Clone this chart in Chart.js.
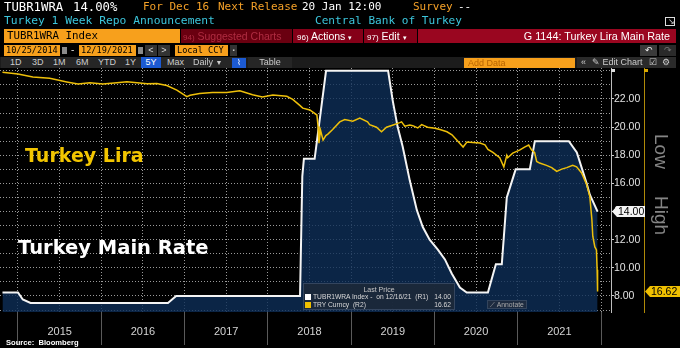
<!DOCTYPE html>
<html>
<head>
<meta charset="utf-8">
<script src="https://cdn.jsdelivr.net/npm/chart.js@4.4.1/dist/chart.umd.min.js"></script>
<style>
  html, body { margin: 0; padding: 0; background: #000; }
  #wrap { position: relative; width: 680px; height: 348px; overflow: hidden; background: #000;
          font-family: "Liberation Sans", Arial, sans-serif; }
  #wrap canvas { position: absolute; left: 0; top: 0; }
  .t { position: absolute; white-space: nowrap; }
  .m { font-family: "DejaVu Sans Mono", monospace; }
  .b { position: absolute; box-sizing: border-box; white-space: nowrap; overflow: hidden; }
  .or { color: #f5a128; }
  .cy { color: #3cc6dc; }
  .ov { z-index: 2; }
</style>
</head>
<body>
<div id="wrap">
  <canvas id="chart" width="680" height="348"></canvas>

  <!-- header line 1 -->
  <div class="t m" style="left:4px;top:0px;font-size:12.3px;line-height:14px;color:#fff">TUBR1WRA</div>
  <div class="t m" style="left:73px;top:0px;font-size:12.3px;line-height:14px;color:#fff">14.00%</div>
  <div class="t m or" style="left:143px;top:0px;font-size:11px;line-height:14px">For Dec 16</div>
  <div class="t m or" style="left:218px;top:0px;font-size:11px;line-height:14px">Next Release</div>
  <div class="t m" style="left:302px;top:0px;font-size:11px;line-height:14px;color:#fff">20 Jan 12:00</div>
  <div class="t m or" style="left:413px;top:0px;font-size:11px;line-height:14px">Survey</div>
  <div class="t m" style="left:458px;top:0px;font-size:11px;line-height:14px;color:#fff">--</div>

  <!-- header line 2 -->
  <div class="t m cy" style="left:4px;top:14px;font-size:11.3px;line-height:14px">Turkey 1 Week Repo Announcement</div>
  <div class="t m cy" style="left:315px;top:14px;font-size:11.1px;line-height:14px">Central Bank of Turkey</div>
  <div class="b" style="left:665px;top:17px;width:10px;height:9px;border:1.5px solid #ddd"></div>
  <div class="t" style="left:668px;top:18px;font-size:8px;line-height:8px;color:#ddd">↘</div>

  <!-- header line 3 -->
  <div class="b m" style="left:4px;top:29px;width:176px;height:14px;background:#f7a01c;color:#000;font-size:10.8px;line-height:14px;padding-left:3px">TUBR1WRA Index</div>
  <div class="b" style="left:181px;top:29px;width:111px;height:14px;background:#6a0010;color:#b02c42;font-size:10.5px;line-height:14px;padding-left:2px"><span style="font-size:8px">94)</span> Suggested Charts</div>
  <div class="b" style="left:293px;top:29px;width:70px;height:14px;background:#850018;color:#fff;font-size:10.5px;line-height:14px;padding-left:4px"><span style="font-size:8px">96)</span> Actions <span style="font-size:7px">▾</span></div>
  <div class="b" style="left:364px;top:29px;width:53px;height:14px;background:#850018;color:#fff;font-size:10.5px;line-height:14px;padding-left:3px"><span style="font-size:8px">97)</span> Edit <span style="font-size:7px">▾</span></div>
  <div class="b" style="left:418px;top:29px;width:258px;height:14px;background:#9a0620;color:#fff;font-size:10.8px;line-height:14px;text-align:right;padding-right:6px">G 1144: Turkey Lira Main Rate</div>

  <!-- header line 4 -->
  <div class="b m" style="left:4px;top:45px;width:56px;height:11px;background:#f7a01c;color:#000;font-size:8.6px;line-height:11px;padding-left:2px">10/25/2014</div>
  <div class="b" style="left:62px;top:47px;width:5px;height:7px;background:#8a8a8a"></div>
  <div class="t" style="left:71px;top:44px;font-size:10px;line-height:12px;color:#ddd">-</div>
  <div class="b m" style="left:79px;top:45px;width:57px;height:11px;background:#f7a01c;color:#000;font-size:8.6px;line-height:11px;padding-left:2px">12/19/2021</div>
  <div class="b" style="left:138px;top:47px;width:5px;height:7px;background:#8a8a8a"></div>
  <div class="b" style="left:145px;top:45px;width:12px;height:11px;background:#333;color:#ddd;font-size:9px;line-height:11px;text-align:center">&lt;</div>
  <div class="b" style="left:158px;top:45px;width:12px;height:11px;background:#333;color:#ddd;font-size:9px;line-height:11px;text-align:center">&gt;</div>
  <div class="b m" style="left:175px;top:45px;width:53px;height:11px;background:#f7a01c;color:#000;font-size:8.6px;line-height:11px;padding-left:2px">Local CCY</div>
  <div class="b" style="left:230px;top:45px;width:7px;height:11px;background:#333;color:#ccc;font-size:6px;line-height:11px;text-align:center">▪</div>
  <div class="b" style="left:640px;top:45px;width:17px;height:11px;background:#3a3a3a;color:#eee;font-size:9px;line-height:11px;text-align:center">↶</div>
  <div class="b" style="left:659px;top:45px;width:17px;height:11px;background:#2a2a2a;color:#777;font-size:9px;line-height:11px;text-align:center">↷</div>

  <!-- toolbar -->
  <div class="b" style="left:0px;top:57px;width:676px;height:11px;background:#1c1c1c"></div>
  <div class="b" style="left:1px;top:57px;width:236px;height:11px;background:#262626"></div>
  <div class="t" style="left:10px;top:57px;font-size:9px;line-height:11px;color:#ccc">1D</div>
  <div class="t" style="left:32px;top:57px;font-size:9px;line-height:11px;color:#ccc">3D</div>
  <div class="t" style="left:53px;top:57px;font-size:9px;line-height:11px;color:#ccc">1M</div>
  <div class="t" style="left:76px;top:57px;font-size:9px;line-height:11px;color:#ccc">6M</div>
  <div class="t" style="left:98px;top:57px;font-size:9px;line-height:11px;color:#ccc">YTD</div>
  <div class="t" style="left:125px;top:57px;font-size:9px;line-height:11px;color:#ccc">1Y</div>
  <div class="b" style="left:141px;top:57px;width:20px;height:11px;background:#1c5ad2;color:#fff;font-size:9px;line-height:11px;text-align:center">5Y</div>
  <div class="t" style="left:167px;top:57px;font-size:9px;line-height:11px;color:#ccc">Max</div>
  <div class="t" style="left:193px;top:57px;font-size:9px;line-height:11px;color:#ccc">Daily <span style="font-size:7px">▼</span></div>
  <div class="b" style="left:232px;top:58px;width:14px;height:10px;background:#1c5ad2;color:#fff;font-size:8px;line-height:10px;text-align:center">⌇</div>
  <div class="b" style="left:248px;top:57px;width:44px;height:11px;background:#262626;color:#ccc;font-size:9px;line-height:11px;text-align:center">Table</div>
  <div class="b" style="left:464px;top:58px;width:111px;height:10px;background:#f7a01c;color:#b86400;font-size:9px;line-height:10px;padding-left:4px">Add Data</div>
  <div class="b" style="left:577px;top:57px;width:99px;height:11px;background:#2a2a2a"></div>
  <div class="t" style="left:581px;top:57px;font-size:9px;line-height:11px;color:#ccc">«</div>
  <div class="t" style="left:592px;top:57px;font-size:9px;line-height:11px;color:#ccc">✎ Edit Chart</div>
  <div class="t" style="left:649px;top:57px;font-size:9px;line-height:11px;color:#ccc">☑</div>
  <div class="t" style="left:662px;top:57px;font-size:9px;line-height:11px;color:#ccc">⚙</div>

  <!-- chart annotations -->
  <div class="t ov" style="left:25px;top:143px;font-family:'DejaVu Sans';font-weight:bold;font-size:19px;line-height:24px;color:#f2c500">Turkey Lira</div>
  <div class="t ov" style="left:18px;top:236px;font-family:'DejaVu Sans';font-weight:bold;font-size:19.5px;line-height:24px;color:#fff">Turkey Main Rate</div>

  <div class="t ov" style="left:651px;top:138px;font-size:19px;line-height:20px;color:#858585;transform-origin:0 0;transform:translate(20px,-4px) rotate(90deg)">Low</div>
  <div class="t ov" style="left:651px;top:200px;font-size:19px;line-height:20px;color:#858585;transform-origin:0 0;transform:translate(20px,-4px) rotate(90deg)">High</div>

  <!-- legend -->
  <div class="b ov" style="left:303px;top:283px;width:152px;height:27px;background:rgba(28,40,58,0.92);border:1px solid #34455e;font-size:6.7px;color:#d8d8d8">
    <div class="t" style="left:0;width:150px;top:1px;line-height:9px;text-align:center;color:#c8c8c8;font-size:7px">Last Price</div>
    <div class="b" style="left:1px;top:10px;width:6px;height:6px;background:#fff"></div>
    <div class="t" style="left:9px;top:9px;line-height:8px">TUBR1WRA Index -&nbsp; on 12/16/21&nbsp; (R1)</div>
    <div class="t" style="right:3px;top:9px;line-height:8px">14.00</div>
    <div class="b" style="left:1px;top:18px;width:6px;height:6px;background:#f0c000"></div>
    <div class="t" style="left:9px;top:17px;line-height:8px">TRY Curncy&nbsp; (R2)</div>
    <div class="t" style="right:3px;top:17px;line-height:8px">16.62</div>
  </div>
  <div class="b ov" style="left:487px;top:300px;width:40px;height:9px;background:#1d2b40;border:1px solid #33445c;font-size:6.8px;line-height:7px;color:#aaa;text-align:center">⟋ Annotate</div>

  <div class="t" style="left:6px;top:338px;font-size:7.6px;line-height:10px;font-weight:bold;color:#fff">Source:&nbsp; Bloomberg</div>
</div>

<script>
// TUBR1WRA Index - Turkey 1 week repo rate (R1, %)
const rateDates = [
  '2014-10-25', '2015-01-01', '2015-01-22', '2015-02-25', '2016-10-20', '2016-11-25',
  '2018-05-22', '2018-06-01', '2018-06-08', '2018-07-25', '2018-09-13', '2019-06-12',
  '2019-07-02', '2019-07-24', '2019-08-15', '2019-09-15', '2019-10-16', '2019-11-11',
  '2019-12-11', '2020-01-16', '2020-02-16', '2020-03-17', '2020-04-22', '2020-05-22',
  '2020-08-23', '2020-09-27', '2020-10-23', '2020-11-14', '2020-12-23', '2021-02-23',
  '2021-03-17', '2021-08-13', '2021-09-17', '2021-10-30', '2021-11-13', '2021-12-17'
];
const rateValues = [
  8.25, 8.25, 7.75, 7.5, 7.5, 8.0,
  8.0, 16.5, 17.75, 17.75, 24.0, 24.0,
  21.9, 20.0, 18.6, 16.2, 14.1, 12.9,
  12.0, 11.3, 10.6, 9.6, 8.6, 8.25,
  8.25, 10.25, 10.25, 15.0, 17.0, 17.0,
  19.0, 19.0, 18.2, 16.0, 15.2, 14.0
];

// TRY Curncy - lira per dollar (R2, inverted)
const liraDates = [
  '2014-10-25', '2015-01-01', '2015-03-07', '2015-05-20', '2015-08-03', '2015-09-21',
  '2015-11-12', '2016-01-08', '2016-03-10', '2016-04-23', '2016-07-20', '2016-09-01',
  '2016-10-15', '2016-11-28', '2017-01-11', '2017-01-25', '2017-03-08', '2017-05-03',
  '2017-07-05', '2017-08-31', '2017-10-26', '2017-12-08', '2018-01-23', '2018-03-25',
  '2018-04-20', '2018-05-21', '2018-06-03', '2018-07-04', '2018-08-04', '2018-08-09',
  '2018-08-13', '2018-08-20', '2018-08-31', '2018-09-12', '2018-09-21', '2018-10-12',
  '2018-11-12', '2018-12-04', '2019-01-08', '2019-02-08', '2019-03-14', '2019-03-23',
  '2019-04-22', '2019-05-14', '2019-06-05', '2019-07-01', '2019-08-02', '2019-08-10',
  '2019-08-24', '2019-09-15', '2019-09-28', '2019-10-20', '2019-11-06', '2019-12-02',
  '2020-01-03', '2020-01-25', '2020-02-25', '2020-03-18', '2020-04-09', '2020-05-06',
  '2020-05-23', '2020-06-18', '2020-07-19', '2020-08-10', '2020-08-23', '2020-09-14',
  '2020-10-14', '2020-11-01', '2020-11-14', '2020-11-18', '2020-12-10', '2021-01-09',
  '2021-01-31', '2021-02-18', '2021-03-03', '2021-03-16', '2021-03-25', '2021-04-07',
  '2021-05-07', '2021-05-30', '2021-06-21', '2021-07-13', '2021-08-04', '2021-08-30',
  '2021-09-16', '2021-10-08', '2021-10-30', '2021-11-13', '2021-11-22', '2021-11-26',
  '2021-12-05', '2021-12-12', '2021-12-15', '2021-12-17'
];
const liraValues = [
  2.24, 2.36, 2.56, 2.64, 2.88, 3.02,
  2.93, 3.02, 2.93, 2.87, 3.00, 2.99,
  3.12, 3.42, 3.85, 3.76, 3.64, 3.58,
  3.58, 3.46, 3.72, 3.86, 3.74, 3.82,
  4.02, 4.42, 4.60, 4.72, 5.05, 5.80,
  6.90, 6.05, 6.70, 6.40, 6.30, 6.00,
  5.50, 5.35, 5.45, 5.25, 5.50, 5.68,
  5.85, 6.15, 5.85, 5.72, 5.55, 5.50,
  5.78, 5.70, 5.75, 5.90, 5.68, 5.85,
  5.92, 6.00, 6.15, 6.35, 6.70, 7.15,
  6.82, 6.85, 6.88, 7.00, 7.30, 7.50,
  7.85, 8.45, 7.70, 7.85, 7.55, 7.35,
  7.15, 7.02, 7.35, 7.50, 8.10, 8.20,
  8.35, 8.50, 8.75, 8.60, 8.50, 8.35,
  8.45, 8.85, 9.60, 10.4, 11.9, 13.0,
  13.7, 13.9, 15.2, 16.62
];

const yearLabels = ['2015', '2016', '2017', '2018', '2019', '2020', '2021'];
const rateTicks = [8, 10, 12, 14, 16, 18, 20, 22];
const liraTicks = [4, 6, 8, 10, 12, 14, 16];

// date string -> fractional year, so a linear axis can be used without a date adapter
function toYear(d) {
  const [y, m, day] = d.split('-').map(Number);
  const start = Date.UTC(y, 0, 1);
  const end = Date.UTC(y + 1, 0, 1);
  return y + (Date.UTC(y, m - 1, day) - start) / (end - start);
}

const ratePoints = rateDates.map((d, i) => ({ x: toYear(d), y: rateValues[i] }));
const liraPoints = liraDates.map((d, i) => ({ x: toYear(d), y: liraValues[i] }));

const GRID = '#9a9a9a';
const AXIS_FONT = { family: 'Liberation Sans', size: 10.5 };

function drawTag(ctx, x, y, w, bg, text) {
  const h = 11;
  ctx.save();
  ctx.beginPath();
  ctx.moveTo(x, y);
  ctx.lineTo(x + 5, y - h / 2);
  ctx.lineTo(x + w, y - h / 2);
  ctx.lineTo(x + w, y + h / 2);
  ctx.lineTo(x + 5, y + h / 2);
  ctx.closePath();
  ctx.fillStyle = bg;
  ctx.fill();
  ctx.fillStyle = '#000';
  ctx.font = '10.5px "Liberation Sans"';
  ctx.textAlign = 'left';
  ctx.textBaseline = 'middle';
  ctx.fillText(text, x + 6, y + 0.5);
  ctx.restore();
}

// last value tags and the little flags on top of each axis
const lastTags = {
  id: 'lastTags',
  afterDraw(chart) {
    const { ctx } = chart;
    const r1 = chart.scales.r1;
    const r2 = chart.scales.r2;
    ctx.save();
    ctx.fillStyle = '#ddd';
    ctx.fillRect(r1.left, r1.top + 1, 4, 3);
    ctx.fillStyle = '#d9a800';
    ctx.fillRect(r2.left, r2.top + 1, 4, 3);
    ctx.restore();
    const lastRate = rateValues[rateValues.length - 1];
    const lastLira = liraValues[liraValues.length - 1];
    drawTag(ctx, r1.left + 1, r1.getPixelForValue(lastRate), 33, '#f4f4f4', lastRate.toFixed(2));
    drawTag(ctx, r2.left + 1, r2.getPixelForValue(lastLira), 35, '#f0c000', lastLira.toFixed(2));
  }
};

new Chart(document.getElementById('chart'), {
  type: 'line',
  data: {
    datasets: [
      {
        label: 'TUBR1WRA Index',
        data: ratePoints,
        yAxisID: 'r1',
        borderColor: '#f4f4f4',
        borderWidth: 2,
        backgroundColor: 'rgba(14,46,88,0.8)',
        fill: 'start',
        pointRadius: 0,
        tension: 0,
        order: 2
      },
      {
        label: 'TRY Curncy',
        data: liraPoints,
        yAxisID: 'r2',
        borderColor: '#eec00a',
        borderWidth: 1.5,
        fill: false,
        pointRadius: 0,
        tension: 0,
        order: 1
      }
    ]
  },
  options: {
    responsive: false,
    animation: false,
    events: [],
    layout: { padding: { left: 0, top: 68, right: 0, bottom: 0 } },
    plugins: { legend: { display: false }, tooltip: { enabled: false } },
    scales: {
      x: {
        type: 'linear',
        min: 2014.784,
        max: 2022.12,
        afterFit: s => { s.height = 36; },
        border: { display: false, dash: [1, 2] },
        grid: {
          color: GRID,
          lineWidth: 1,
          tickLength: 33,
          tickWidth: 1,
          tickColor: c => (c.tick && c.tick.value % 1 === 0) ? '#5a5a5a' : 'transparent'
        },
        ticks: {
          stepSize: 0.5,
          includeBounds: false,
          autoSkip: false,
          maxRotation: 0,
          padding: -20,
          color: '#d4d4d4',
          font: { family: 'Liberation Sans', size: 11 },
          callback: v => {
            const y = String(Math.floor(v));
            return (v % 1 === 0.5 && yearLabels.includes(y)) ? y : '';
          }
        }
      },
      r1: {
        type: 'linear',
        position: 'right',
        min: 6.863,
        max: 24.2,
        afterFit: s => { s.width = 33; },
        border: { display: true, color: '#bdbdbd', width: 1, dash: [1, 2] },
        grid: {
          color: GRID,
          lineWidth: 1,
          tickLength: 3,
          tickColor: c => (c.tick && rateTicks.includes(c.tick.value)) ? '#cfcfcf' : 'transparent'
        },
        ticks: {
          stepSize: 1,
          includeBounds: false,
          autoSkip: false,
          padding: 0,
          color: '#e2e2e2',
          font: AXIS_FONT,
          callback: v => rateTicks.includes(v) ? v.toFixed(2) : ''
        }
      },
      r2: {
        type: 'linear',
        position: 'right',
        reverse: true,
        min: 1.967,
        max: 17.967,
        afterFit: s => { s.width = 36; },
        border: { display: true, color: '#b08a08', width: 1 },
        grid: {
          drawOnChartArea: false,
          tickLength: 3,
          tickColor: c => (c.tick && liraTicks.includes(c.tick.value)) ? '#d9a800' : 'transparent'
        },
        ticks: {
          stepSize: 2,
          includeBounds: false,
          autoSkip: false,
          padding: 1,
          color: '#e2e2e2',
          font: AXIS_FONT,
          callback: v => liraTicks.includes(v) ? v.toFixed(2) : ''
        }
      }
    }
  },
  plugins: [lastTags]
});
</script>
</body>
</html>
